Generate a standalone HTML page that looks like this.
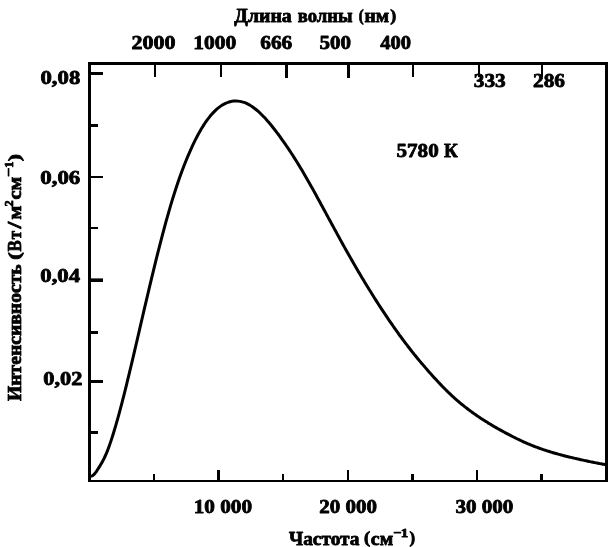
<!DOCTYPE html>
<html lang="ru">
<head>
<meta charset="utf-8">
<title>5780 K</title>
<style>
html,body{margin:0;padding:0;background:#fff;}
body{width:608px;height:547px;overflow:hidden;font-family:"Liberation Serif",serif;}
svg{display:block;will-change:transform;opacity:0.999;}
text{font-family:"Liberation Serif",serif;font-weight:bold;fill:#000;stroke:#000;stroke-width:0.8;stroke-linejoin:round;}
.f{fill:#000;shape-rendering:crispEdges;}
</style>
</head>
<body>
<svg width="608" height="547" viewBox="0 0 608 547">
<rect x="0" y="0" width="608" height="547" fill="#fff"/>
<!-- frame -->
<rect class="f" x="88" y="62" width="3" height="420"/>
<rect class="f" x="88" y="62" width="520" height="3"/>
<rect class="f" x="605" y="62" width="3" height="420"/>
<rect class="f" x="88" y="480" width="520" height="2"/>
<!-- left ticks -->
<rect class="f" x="91" y="72" width="12" height="3"/>
<rect class="f" x="91" y="124" width="7" height="3"/>
<rect class="f" x="91" y="176" width="12" height="2"/>
<rect class="f" x="91" y="227" width="7" height="2"/>
<rect x="91" y="278.4" width="12" height="3.6" fill="#000"/>
<rect class="f" x="91" y="331" width="7" height="3"/>
<rect class="f" x="91" y="380" width="12" height="3"/>
<rect class="f" x="91" y="431" width="7" height="3"/>
<!-- top ticks -->
<rect class="f" x="154" y="65" width="2" height="12"/>
<rect class="f" x="220" y="65" width="2" height="12"/>
<rect class="f" x="285" y="65" width="3" height="13"/>
<rect class="f" x="347" y="65" width="3" height="13"/>
<rect class="f" x="412" y="65" width="2" height="12"/>
<rect class="f" x="478" y="65" width="2" height="12"/>
<rect class="f" x="541" y="65" width="2" height="12"/>
<!-- bottom ticks -->
<rect class="f" x="153" y="474" width="2" height="6"/>
<rect class="f" x="217" y="470" width="3" height="10"/>
<rect class="f" x="282" y="474" width="2" height="6"/>
<rect class="f" x="347" y="470" width="2" height="10"/>
<rect class="f" x="411" y="474" width="3" height="6"/>
<rect class="f" x="476" y="470" width="2" height="10"/>
<rect class="f" x="540" y="474" width="3" height="6"/>
<!-- curve -->
<path d="M89.50,476.37 C89.67,476.36 90.17,476.35 90.50,476.32 C90.83,476.28 91.17,476.27 91.50,476.17 C91.83,476.07 92.17,475.91 92.50,475.71 C92.83,475.50 93.17,475.24 93.50,474.94 C93.83,474.65 94.17,474.30 94.50,473.92 C94.83,473.55 95.17,473.13 95.50,472.69 C95.83,472.26 96.17,471.78 96.50,471.30 C96.83,470.82 97.17,470.31 97.50,469.79 C97.83,469.28 98.17,468.74 98.50,468.21 C98.83,467.68 99.17,467.15 99.50,466.61 C99.83,466.07 100.17,465.55 100.50,464.99 C100.83,464.44 101.17,463.87 101.50,463.29 C101.83,462.70 102.17,462.10 102.50,461.48 C102.83,460.86 103.17,460.22 103.50,459.56 C103.83,458.90 104.17,458.23 104.50,457.53 C104.83,456.83 105.17,456.11 105.50,455.37 C105.83,454.63 106.17,453.86 106.50,453.08 C106.83,452.29 107.17,451.48 107.50,450.64 C107.83,449.80 108.17,448.94 108.50,448.05 C108.83,447.17 109.17,446.25 109.50,445.31 C109.83,444.37 110.17,443.39 110.50,442.40 C110.83,441.42 111.17,440.41 111.50,439.39 C111.83,438.37 112.17,437.33 112.50,436.27 C112.83,435.22 113.17,434.15 113.50,433.07 C113.83,431.98 114.17,430.89 114.50,429.77 C114.83,428.66 115.17,427.53 115.50,426.39 C115.83,425.25 116.17,424.10 116.50,422.93 C116.83,421.76 117.17,420.59 117.50,419.39 C117.83,418.20 118.17,417.00 118.50,415.79 C118.83,414.57 119.17,413.35 119.50,412.11 C119.83,410.88 120.17,409.63 120.50,408.37 C120.83,407.12 121.17,405.85 121.50,404.57 C121.83,403.30 122.17,402.01 122.50,400.72 C122.83,399.42 123.17,398.12 123.50,396.81 C123.83,395.50 124.17,394.18 124.50,392.85 C124.83,391.53 125.17,390.19 125.50,388.85 C125.83,387.51 126.17,386.16 126.50,384.80 C126.83,383.45 127.17,382.09 127.50,380.72 C127.83,379.35 128.17,377.98 128.50,376.60 C128.83,375.22 129.17,373.83 129.50,372.44 C129.83,371.05 130.17,369.66 130.50,368.26 C130.83,366.86 131.17,365.46 131.50,364.05 C131.83,362.65 132.17,361.24 132.50,359.82 C132.83,358.41 133.17,356.99 133.50,355.57 C133.83,354.15 134.17,352.73 134.50,351.30 C134.83,349.88 135.17,348.45 135.50,347.02 C135.83,345.59 136.17,344.16 136.50,342.73 C136.83,341.29 137.17,339.86 137.50,338.42 C137.83,336.99 138.17,335.55 138.50,334.12 C138.83,332.68 139.25,330.88 139.50,329.80 C139.75,328.73 139.58,329.44 140.00,327.65 C140.42,325.85 141.33,321.89 142.00,319.02 C142.67,316.15 143.33,313.28 144.00,310.42 C144.67,307.56 145.33,304.70 146.00,301.86 C146.67,299.01 147.33,296.17 148.00,293.34 C148.67,290.52 149.33,287.70 150.00,284.91 C150.67,282.11 151.33,279.32 152.00,276.55 C152.67,273.79 153.33,271.03 154.00,268.30 C154.67,265.57 155.33,262.86 156.00,260.17 C156.67,257.48 157.33,254.81 158.00,252.16 C158.67,249.52 159.33,246.89 160.00,244.30 C160.67,241.70 161.33,239.13 162.00,236.59 C162.67,234.05 163.33,231.53 164.00,229.05 C164.67,226.57 165.33,224.12 166.00,221.70 C166.67,219.28 167.33,216.90 168.00,214.55 C168.67,212.20 169.33,209.89 170.00,207.62 C170.67,205.34 171.33,203.11 172.00,200.91 C172.67,198.72 173.33,196.57 174.00,194.45 C174.67,192.34 175.33,190.27 176.00,188.24 C176.67,186.21 177.33,184.22 178.00,182.28 C178.67,180.33 179.33,178.42 180.00,176.56 C180.67,174.69 181.33,172.86 182.00,171.07 C182.67,169.28 183.33,167.53 184.00,165.81 C184.67,164.09 185.33,162.41 186.00,160.76 C186.67,159.12 187.33,157.51 188.00,155.93 C188.67,154.35 189.33,152.81 190.00,151.30 C190.67,149.79 191.33,148.32 192.00,146.88 C192.67,145.44 193.33,144.03 194.00,142.66 C194.67,141.28 195.33,139.94 196.00,138.64 C196.67,137.34 197.33,136.07 198.00,134.83 C198.67,133.60 199.33,132.40 200.00,131.23 C200.67,130.07 201.33,128.94 202.00,127.84 C202.67,126.75 203.33,125.69 204.00,124.67 C204.67,123.64 205.33,122.65 206.00,121.70 C206.67,120.74 207.33,119.82 208.00,118.94 C208.67,118.05 209.33,117.20 210.00,116.38 C210.67,115.56 211.33,114.77 212.00,114.02 C212.67,113.27 213.33,112.55 214.00,111.87 C214.67,111.18 215.33,110.53 216.00,109.91 C216.67,109.29 217.33,108.70 218.00,108.15 C218.67,107.60 219.33,107.08 220.00,106.59 C220.67,106.10 221.33,105.65 222.00,105.23 C222.67,104.81 223.33,104.42 224.00,104.06 C224.67,103.71 225.33,103.39 226.00,103.10 C226.67,102.81 227.33,102.55 228.00,102.32 C228.67,102.10 229.33,101.90 230.00,101.73 C230.67,101.57 231.33,101.43 232.00,101.33 C232.67,101.22 233.33,101.14 234.00,101.09 C234.67,101.04 235.33,101.02 236.00,101.02 C236.67,101.03 237.33,101.06 238.00,101.12 C238.67,101.18 239.33,101.27 240.00,101.39 C240.67,101.51 241.33,101.65 242.00,101.83 C242.67,102.00 243.33,102.20 244.00,102.44 C244.67,102.67 245.33,102.93 246.00,103.22 C246.67,103.51 247.33,103.82 248.00,104.17 C248.67,104.51 249.33,104.88 250.00,105.28 C250.67,105.68 251.33,106.10 252.00,106.55 C252.67,107.00 253.33,107.47 254.00,107.97 C254.67,108.46 255.33,108.98 256.00,109.53 C256.67,110.07 257.33,110.63 258.00,111.21 C258.67,111.79 259.33,112.40 260.00,113.02 C260.67,113.65 261.33,114.29 262.00,114.95 C262.67,115.61 263.33,116.29 264.00,116.99 C264.67,117.69 265.33,118.41 266.00,119.14 C266.67,119.88 267.33,120.63 268.00,121.40 C268.67,122.17 269.33,122.95 270.00,123.75 C270.67,124.55 271.33,125.37 272.00,126.20 C272.67,127.03 273.33,127.87 274.00,128.73 C274.67,129.59 275.33,130.46 276.00,131.34 C276.67,132.22 277.33,133.11 278.00,134.01 C278.67,134.91 279.33,135.83 280.00,136.75 C280.67,137.67 281.33,138.60 282.00,139.54 C282.67,140.48 283.33,141.43 284.00,142.38 C284.67,143.33 285.33,144.30 286.00,145.27 C286.67,146.24 287.33,147.22 288.00,148.20 C288.67,149.19 289.33,150.19 290.00,151.19 C290.67,152.20 291.33,153.21 292.00,154.24 C292.67,155.26 293.33,156.29 294.00,157.34 C294.67,158.38 295.33,159.44 296.00,160.50 C296.67,161.56 297.33,162.64 298.00,163.72 C298.67,164.81 299.33,165.90 300.00,167.00 C300.67,168.11 301.33,169.22 302.00,170.34 C302.67,171.46 303.33,172.59 304.00,173.73 C304.67,174.87 305.33,176.02 306.00,177.18 C306.67,178.33 307.33,179.50 308.00,180.67 C308.67,181.84 309.33,183.02 310.00,184.20 C310.67,185.38 311.33,186.58 312.00,187.77 C312.67,188.97 313.33,190.17 314.00,191.37 C314.67,192.58 315.33,193.79 316.00,195.01 C316.67,196.22 317.33,197.44 318.00,198.66 C318.67,199.88 319.33,201.11 320.00,202.33 C320.67,203.56 321.33,204.78 322.00,206.01 C322.67,207.24 323.33,208.47 324.00,209.70 C324.67,210.93 325.33,212.17 326.00,213.40 C326.67,214.63 327.33,215.86 328.00,217.09 C328.67,218.32 329.33,219.55 330.00,220.78 C330.67,222.01 331.33,223.24 332.00,224.47 C332.67,225.70 333.33,226.92 334.00,228.15 C334.67,229.37 335.33,230.60 336.00,231.82 C336.67,233.04 337.33,234.26 338.00,235.48 C338.67,236.69 339.33,237.91 340.00,239.12 C340.67,240.33 341.33,241.54 342.00,242.75 C342.67,243.96 343.33,245.16 344.00,246.36 C344.67,247.56 345.33,248.76 346.00,249.95 C346.67,251.14 347.33,252.33 348.00,253.52 C348.67,254.70 349.33,255.88 350.00,257.06 C350.67,258.23 351.33,259.40 352.00,260.57 C352.67,261.74 353.33,262.90 354.00,264.05 C354.67,265.21 355.33,266.36 356.00,267.50 C356.67,268.65 357.33,269.79 358.00,270.93 C358.67,272.06 359.33,273.19 360.00,274.32 C360.67,275.44 361.33,276.56 362.00,277.68 C362.67,278.79 363.33,279.90 364.00,281.01 C364.67,282.11 365.33,283.21 366.00,284.31 C366.67,285.40 367.33,286.49 368.00,287.58 C368.67,288.66 369.33,289.74 370.00,290.82 C370.67,291.90 371.33,292.97 372.00,294.03 C372.67,295.10 373.33,296.16 374.00,297.21 C374.67,298.27 375.33,299.32 376.00,300.36 C376.67,301.41 377.33,302.45 378.00,303.49 C378.67,304.52 379.33,305.55 380.00,306.57 C380.67,307.60 381.33,308.62 382.00,309.63 C382.67,310.65 383.33,311.66 384.00,312.66 C384.67,313.67 385.33,314.67 386.00,315.66 C386.67,316.66 387.33,317.65 388.00,318.63 C388.67,319.61 389.33,320.59 390.00,321.57 C390.67,322.54 391.33,323.51 392.00,324.47 C392.67,325.44 393.33,326.39 394.00,327.35 C394.67,328.30 395.33,329.25 396.00,330.19 C396.67,331.13 397.33,332.06 398.00,332.99 C398.67,333.92 399.33,334.85 400.00,335.76 C400.67,336.68 401.33,337.59 402.00,338.50 C402.67,339.40 403.33,340.30 404.00,341.19 C404.67,342.08 405.33,342.97 406.00,343.85 C406.67,344.73 407.33,345.60 408.00,346.46 C408.67,347.33 409.33,348.19 410.00,349.04 C410.67,349.89 411.33,350.73 412.00,351.57 C412.67,352.41 413.33,353.24 414.00,354.07 C414.67,354.89 415.33,355.71 416.00,356.53 C416.67,357.34 417.33,358.15 418.00,358.95 C418.67,359.75 419.33,360.55 420.00,361.34 C420.67,362.13 421.33,362.92 422.00,363.70 C422.67,364.49 423.33,365.27 424.00,366.04 C424.67,366.82 425.33,367.59 426.00,368.36 C426.67,369.12 427.33,369.89 428.00,370.65 C428.67,371.41 429.33,372.17 430.00,372.92 C430.67,373.67 431.33,374.42 432.00,375.17 C432.67,375.92 433.33,376.66 434.00,377.40 C434.67,378.13 435.33,378.87 436.00,379.59 C436.67,380.32 437.33,381.04 438.00,381.76 C438.67,382.47 439.33,383.18 440.00,383.89 C440.67,384.59 441.33,385.29 442.00,385.98 C442.67,386.67 443.33,387.35 444.00,388.03 C444.67,388.71 445.33,389.37 446.00,390.04 C446.67,390.70 447.33,391.35 448.00,392.00 C448.67,392.65 449.33,393.28 450.00,393.92 C450.67,394.55 451.33,395.17 452.00,395.79 C452.67,396.41 453.33,397.01 454.00,397.62 C454.67,398.22 455.33,398.81 456.00,399.40 C456.67,399.98 457.33,400.56 458.00,401.14 C458.67,401.71 459.33,402.27 460.00,402.83 C460.67,403.39 461.33,403.94 462.00,404.48 C462.67,405.03 463.33,405.56 464.00,406.10 C464.67,406.63 465.33,407.15 466.00,407.67 C466.67,408.19 467.33,408.70 468.00,409.20 C468.67,409.71 469.33,410.21 470.00,410.71 C470.67,411.20 471.33,411.69 472.00,412.17 C472.67,412.66 473.33,413.13 474.00,413.61 C474.67,414.08 475.33,414.55 476.00,415.01 C476.67,415.47 477.33,415.93 478.00,416.39 C478.67,416.84 479.33,417.29 480.00,417.73 C480.67,418.17 481.33,418.61 482.00,419.05 C482.67,419.48 483.33,419.91 484.00,420.34 C484.67,420.77 485.33,421.19 486.00,421.60 C486.67,422.02 487.33,422.44 488.00,422.84 C488.67,423.25 489.33,423.66 490.00,424.06 C490.67,424.46 491.33,424.86 492.00,425.26 C492.67,425.65 493.33,426.04 494.00,426.43 C494.67,426.82 495.33,427.20 496.00,427.58 C496.67,427.96 497.33,428.34 498.00,428.72 C498.67,429.10 499.33,429.47 500.00,429.84 C500.67,430.21 501.33,430.58 502.00,430.94 C502.67,431.31 503.33,431.67 504.00,432.03 C504.67,432.39 505.33,432.75 506.00,433.11 C506.67,433.46 507.33,433.82 508.00,434.17 C508.67,434.52 509.33,434.87 510.00,435.21 C510.67,435.56 511.33,435.90 512.00,436.24 C512.67,436.58 513.33,436.92 514.00,437.25 C514.67,437.59 515.33,437.92 516.00,438.25 C516.67,438.58 517.33,438.90 518.00,439.23 C518.67,439.55 519.33,439.87 520.00,440.18 C520.67,440.50 521.33,440.81 522.00,441.12 C522.67,441.43 523.33,441.73 524.00,442.03 C524.67,442.34 525.33,442.63 526.00,442.93 C526.67,443.22 527.33,443.51 528.00,443.80 C528.67,444.08 529.33,444.36 530.00,444.64 C530.67,444.92 531.33,445.19 532.00,445.46 C532.67,445.73 533.33,445.99 534.00,446.26 C534.67,446.52 535.33,446.77 536.00,447.03 C536.67,447.28 537.33,447.53 538.00,447.77 C538.67,448.01 539.33,448.25 540.00,448.49 C540.67,448.73 541.33,448.96 542.00,449.19 C542.67,449.42 543.33,449.64 544.00,449.86 C544.67,450.08 545.33,450.30 546.00,450.52 C546.67,450.73 547.33,450.94 548.00,451.15 C548.67,451.36 549.33,451.57 550.00,451.77 C550.67,451.97 551.33,452.17 552.00,452.37 C552.67,452.57 553.33,452.77 554.00,452.96 C554.67,453.15 555.33,453.34 556.00,453.53 C556.67,453.72 557.33,453.90 558.00,454.09 C558.67,454.27 559.33,454.45 560.00,454.63 C560.67,454.81 561.33,454.99 562.00,455.16 C562.67,455.34 563.33,455.51 564.00,455.68 C564.67,455.85 565.33,456.02 566.00,456.19 C566.67,456.36 567.33,456.52 568.00,456.69 C568.67,456.85 569.33,457.01 570.00,457.17 C570.67,457.33 571.33,457.49 572.00,457.65 C572.67,457.81 573.33,457.97 574.00,458.12 C574.67,458.28 575.33,458.43 576.00,458.58 C576.67,458.74 577.33,458.89 578.00,459.04 C578.67,459.19 579.33,459.34 580.00,459.49 C580.67,459.63 581.33,459.78 582.00,459.93 C582.67,460.07 583.33,460.22 584.00,460.36 C584.67,460.51 585.33,460.65 586.00,460.79 C586.67,460.94 587.33,461.08 588.00,461.22 C588.67,461.36 589.33,461.50 590.00,461.64 C590.67,461.77 591.33,461.91 592.00,462.05 C592.67,462.18 593.33,462.32 594.00,462.45 C594.67,462.58 595.33,462.71 596.00,462.85 C596.67,462.98 597.33,463.10 598.00,463.23 C598.67,463.36 599.33,463.48 600.00,463.61 C600.67,463.73 601.33,463.85 602.00,463.97 C602.67,464.09 603.33,464.21 604.00,464.33 C604.67,464.44 605.58,464.59 606.00,464.66 C606.42,464.73 606.42,464.73 606.50,464.75" fill="none" stroke="#000" stroke-width="3" stroke-linejoin="round" stroke-linecap="butt"/>
<!-- text -->
<text x="234.35" y="22.10" font-size="19.2" textLength="57.35" lengthAdjust="spacingAndGlyphs">Длина</text>
<text x="297.80" y="22.10" font-size="19.2" textLength="54.80" lengthAdjust="spacingAndGlyphs">волны</text>
<text x="358.65" y="20.90" font-size="17" textLength="4.91" lengthAdjust="spacingAndGlyphs">(</text>
<text x="364.40" y="22.10" font-size="19.2" textLength="24.66" lengthAdjust="spacingAndGlyphs">нм</text>
<text x="390.35" y="20.90" font-size="17" textLength="5.95" lengthAdjust="spacingAndGlyphs">)</text>
<text x="131.50" y="48.50" font-size="19" textLength="44.02" lengthAdjust="spacingAndGlyphs">2000</text>
<text x="193.25" y="48.50" font-size="19" textLength="43.06" lengthAdjust="spacingAndGlyphs">1000</text>
<text x="260.25" y="48.50" font-size="19" textLength="32.01" lengthAdjust="spacingAndGlyphs">666</text>
<text x="319.50" y="48.50" font-size="19" textLength="31.52" lengthAdjust="spacingAndGlyphs">500</text>
<text x="380.25" y="48.50" font-size="19" textLength="30.75" lengthAdjust="spacingAndGlyphs">400</text>
<text x="473.75" y="86.60" font-size="19" textLength="32.01" lengthAdjust="spacingAndGlyphs">333</text>
<text x="533.00" y="86.60" font-size="19" textLength="32.02" lengthAdjust="spacingAndGlyphs">286</text>
<text x="40.50" y="83.90" font-size="19" textLength="39.76" lengthAdjust="spacingAndGlyphs">0,08</text>
<text x="40.30" y="183.80" font-size="19" textLength="39.96" lengthAdjust="spacingAndGlyphs">0,06</text>
<text x="40.30" y="281.90" font-size="19" textLength="39.71" lengthAdjust="spacingAndGlyphs">0,04</text>
<text x="43.30" y="384.80" font-size="19" textLength="39.23" lengthAdjust="spacingAndGlyphs">0,02</text>
<text x="396.50" y="157.10" font-size="19" textLength="42.17" lengthAdjust="spacingAndGlyphs">5780</text>
<text x="444.10" y="157.10" font-size="19" textLength="13.76" lengthAdjust="spacingAndGlyphs">К</text>
<text x="193.65" y="512.50" font-size="19" textLength="58.39" lengthAdjust="spacingAndGlyphs">10 000</text>
<text x="319.30" y="512.50" font-size="19" textLength="57.66" lengthAdjust="spacingAndGlyphs">20 000</text>
<text x="455.45" y="512.50" font-size="19" textLength="57.81" lengthAdjust="spacingAndGlyphs">30 000</text>
<text x="289.00" y="544.60" font-size="19" textLength="70.50" lengthAdjust="spacingAndGlyphs">Частота</text>
<text x="363.90" y="543.40" font-size="17" textLength="6.17" lengthAdjust="spacingAndGlyphs">(</text>
<text x="370.85" y="544.60" font-size="19" textLength="22.31" lengthAdjust="spacingAndGlyphs">см</text>
<text x="393.25" y="537.30" font-size="13.5" textLength="8.34" lengthAdjust="spacingAndGlyphs">−</text>
<text x="400.85" y="537.30" font-size="13.5" textLength="7.57" lengthAdjust="spacingAndGlyphs">1</text>
<text x="409.45" y="543.40" font-size="17" textLength="5.56" lengthAdjust="spacingAndGlyphs">)</text>
<g transform="translate(21.3,401) rotate(-90)"><text x="0.00" y="0.00" font-size="19" textLength="136.70" lengthAdjust="spacingAndGlyphs">Интенсивность</text><text x="141.30" y="-1.20" font-size="17" textLength="7.58" lengthAdjust="spacingAndGlyphs">(</text><text x="149.40" y="0.00" font-size="19" textLength="11.16" lengthAdjust="spacingAndGlyphs">В</text><text x="161.85" y="0.00" font-size="19" textLength="8.42" lengthAdjust="spacingAndGlyphs">т</text><text x="172.55" y="0.00" font-size="19" textLength="6.86" lengthAdjust="spacingAndGlyphs">/</text><text x="181.40" y="0.00" font-size="19" textLength="13.86" lengthAdjust="spacingAndGlyphs">м</text><text x="194.45" y="-8.50" font-size="13" textLength="6.08" lengthAdjust="spacingAndGlyphs">2</text><text x="201.55" y="0.00" font-size="19" textLength="22.81" lengthAdjust="spacingAndGlyphs">см</text><text x="224.05" y="-8.50" font-size="13" textLength="9.06" lengthAdjust="spacingAndGlyphs">−</text><text x="233.20" y="-8.50" font-size="13" textLength="6.20" lengthAdjust="spacingAndGlyphs">1</text><text x="239.85" y="-1.20" font-size="17" textLength="7.24" lengthAdjust="spacingAndGlyphs">)</text></g>
</svg>
</body>
</html>
